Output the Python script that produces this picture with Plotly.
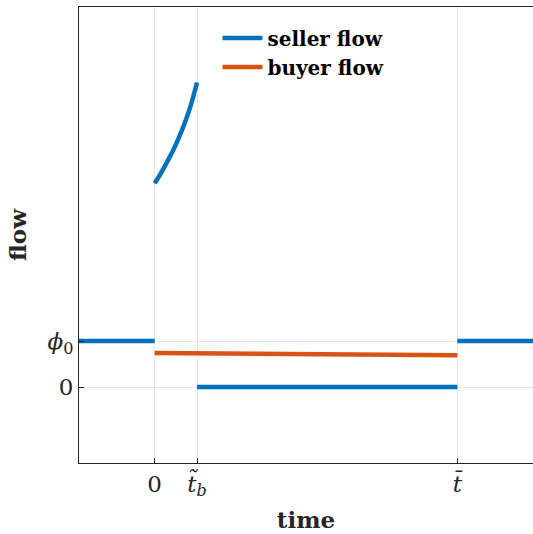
import plotly.graph_objects as go

# data (phi0 = 1, t_bar = 1)
t_b = 0.14
t_bar = 1.0
phi0 = 1.0
x_min, x_max = -0.25, 1.25

seller_pre_x = [x_min, 0.0]
seller_pre_y = [phi0, phi0]
seller_curve_x = [0.0, 0.02, 0.04, 0.06, 0.08, 0.10, 0.12, 0.14]
seller_curve_y = [4.43, 4.64, 4.88, 5.13, 5.42, 5.75, 6.14, 6.62]
seller_zero_x = [t_b, t_bar]
seller_zero_y = [0.0, 0.0]
seller_post_x = [t_bar, x_max]
seller_post_y = [phi0, phi0]
buyer_x = [0.0, t_bar]
buyer_y = [0.74, 0.69]

tick_x_vals = [0.0, t_b, t_bar]
tick_x_text = ["0", "<i>t̃</i><sub><i>b</i></sub>", "<i>t̄</i>"]
tick_y_vals = [0.0, phi0]
tick_y_text = ["0", "<i>ϕ</i><sub>0</sub>"]

BLUE = "#0072BD"
ORANGE = "#D95319"
LW = 4.5

fig = go.Figure()
segs = [(seller_pre_x, seller_pre_y, True), (seller_curve_x, seller_curve_y, False),
        (seller_zero_x, seller_zero_y, False), (seller_post_x, seller_post_y, False)]
for xs, ys, show in segs:
    fig.add_trace(go.Scatter(x=xs, y=ys, mode="lines",
                             line=dict(color=BLUE, width=LW, shape="spline", smoothing=0.8),
                             name="seller flow", legendgroup="s", showlegend=show))
fig.add_trace(go.Scatter(x=buyer_x, y=buyer_y, mode="lines", line=dict(color=ORANGE, width=LW),
                         name="buyer flow", showlegend=True))

serif = "DejaVu Serif, serif"
axis_common = dict(showline=True, mirror=True, linecolor="#262626", linewidth=1,
                   ticks="inside", ticklen=5, tickcolor="#262626",
                   showgrid=True, gridcolor="#e6e6e6", gridwidth=1, zeroline=False,
                   tickfont=dict(family=serif, size=23, color="#262626"))
fig.update_xaxes(range=[x_min, x_max], tickvals=tick_x_vals, ticktext=tick_x_text,
                 title=dict(text="<b>time</b>", font=dict(family=serif, size=23, color="#262626"), standoff=12),
                 **axis_common)
fig.update_yaxes(range=[-1.65, 8.26], tickvals=tick_y_vals, ticktext=tick_y_text,
                 title=dict(text="<b>flow</b>", font=dict(family=serif, size=23, color="#262626"), standoff=14),
                 **axis_common)
fig.update_layout(width=533, height=534, margin=dict(l=79, r=0, t=7, b=71),
                  plot_bgcolor="white", paper_bgcolor="white",
                  legend=dict(x=0.305, y=0.975, xanchor="left", yanchor="top",
                              bgcolor="rgba(255,255,255,0)", tracegroupgap=0,
                              font=dict(family=serif, size=20, color="#000000"),
                              itemwidth=40),
                  showlegend=True)
fig.for_each_trace(lambda t: t.update(name="<b>" + t.name + "</b>"))
fig.write_html("out.html")
